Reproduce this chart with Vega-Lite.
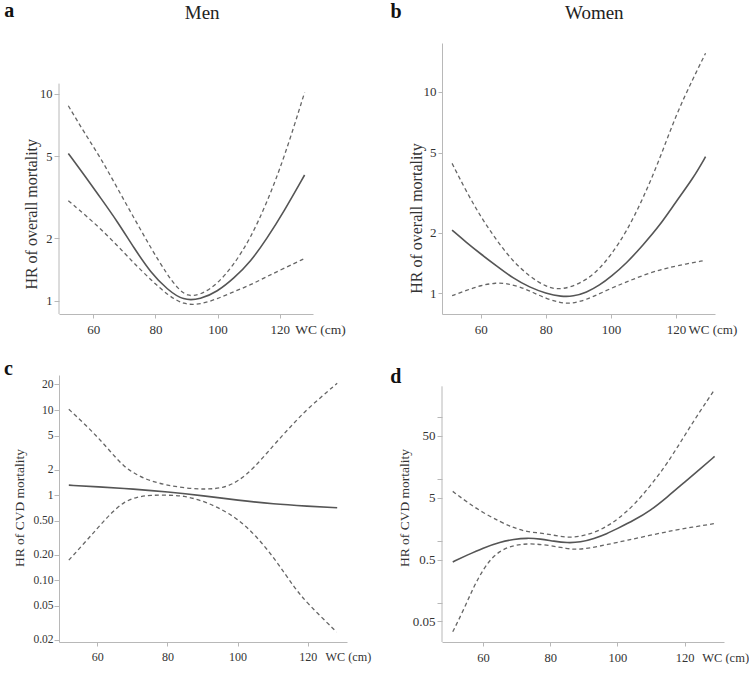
{
  "$schema": "https://vega.github.io/schema/vega-lite/v6.json",
  "background": "white",
  "padding": {"left": 3, "top": 0, "right": 0, "bottom": 0},
  "config": {
    "font": "Liberation Serif, Times New Roman, DejaVu Serif, serif",
    "view": {"stroke": null},
    "axis": {"grid": false, "domainColor": "#b8b8b8", "tickColor": "#b8b8b8", "labelFont": "Liberation Serif, Times New Roman, DejaVu Serif, serif", "titleFont": "Liberation Serif, Times New Roman, DejaVu Serif, serif", "labelColor": "#333333", "titleColor": "#333333", "titleFontWeight": "normal", "labelOverlap": false, "labelFlush": false}
  },
  "datasets": {
    "curves": [
      {"p":"a","s":"est","wc":52,"hr":5.15},{"p":"a","s":"est","wc":57.1,"hr":4.05},{"p":"a","s":"est","wc":62.5,"hr":3.12},{"p":"a","s":"est","wc":67.8,"hr":2.41},{"p":"a","s":"est","wc":73.2,"hr":1.79},{"p":"a","s":"est","wc":78.6,"hr":1.36},{"p":"a","s":"est","wc":83.9,"hr":1.13},{"p":"a","s":"est","wc":89,"hr":1.0},{"p":"a","s":"est","wc":94.5,"hr":1.015},{"p":"a","s":"est","wc":99.9,"hr":1.105},{"p":"a","s":"est","wc":105.2,"hr":1.28},{"p":"a","s":"est","wc":110.6,"hr":1.54},{"p":"a","s":"est","wc":115.9,"hr":2.0},{"p":"a","s":"est","wc":121.3,"hr":2.69},{"p":"a","s":"est","wc":128,"hr":4.05},
      {"p":"a","s":"hi","wc":52,"hr":8.75},{"p":"a","s":"hi","wc":57.1,"hr":6.5},{"p":"a","s":"hi","wc":62.5,"hr":4.87},{"p":"a","s":"hi","wc":67.8,"hr":3.49},{"p":"a","s":"hi","wc":73.2,"hr":2.5},{"p":"a","s":"hi","wc":78.6,"hr":1.79},{"p":"a","s":"hi","wc":83.9,"hr":1.33},{"p":"a","s":"hi","wc":87.1,"hr":1.15},{"p":"a","s":"hi","wc":90.3,"hr":1.045},{"p":"a","s":"hi","wc":94.5,"hr":1.065},{"p":"a","s":"hi","wc":99.9,"hr":1.2},{"p":"a","s":"hi","wc":105.2,"hr":1.49},{"p":"a","s":"hi","wc":110.6,"hr":2.0},{"p":"a","s":"hi","wc":115.9,"hr":2.99},{"p":"a","s":"hi","wc":121.3,"hr":4.83},{"p":"a","s":"hi","wc":128,"hr":10.15},
      {"p":"a","s":"lo","wc":52,"hr":3.04},{"p":"a","s":"lo","wc":62.5,"hr":2.24},{"p":"a","s":"lo","wc":73.2,"hr":1.51},{"p":"a","s":"lo","wc":78.6,"hr":1.26},{"p":"a","s":"lo","wc":83.9,"hr":1.065},{"p":"a","s":"lo","wc":89.2,"hr":0.953},{"p":"a","s":"lo","wc":94.5,"hr":0.96},{"p":"a","s":"lo","wc":99.9,"hr":1.02},{"p":"a","s":"lo","wc":105.2,"hr":1.105},{"p":"a","s":"lo","wc":110.6,"hr":1.19},{"p":"a","s":"lo","wc":115.9,"hr":1.31},{"p":"a","s":"lo","wc":121.3,"hr":1.43},{"p":"a","s":"lo","wc":128,"hr":1.6},
      {"p":"b","s":"est","wc":51.2,"hr":2.06},{"p":"b","s":"est","wc":55.6,"hr":1.79},{"p":"b","s":"est","wc":60,"hr":1.57},{"p":"b","s":"est","wc":64.8,"hr":1.37},{"p":"b","s":"est","wc":69.9,"hr":1.19},{"p":"b","s":"est","wc":75.1,"hr":1.07},{"p":"b","s":"est","wc":80,"hr":1.0},{"p":"b","s":"est","wc":84.8,"hr":0.963},{"p":"b","s":"est","wc":88.4,"hr":0.966},{"p":"b","s":"est","wc":92.5,"hr":1.01},{"p":"b","s":"est","wc":96.6,"hr":1.1},{"p":"b","s":"est","wc":100,"hr":1.21},{"p":"b","s":"est","wc":104.8,"hr":1.41},{"p":"b","s":"est","wc":109.9,"hr":1.74},{"p":"b","s":"est","wc":115.1,"hr":2.18},{"p":"b","s":"est","wc":120,"hr":2.85},{"p":"b","s":"est","wc":125.3,"hr":3.73},{"p":"b","s":"est","wc":129.1,"hr":4.77},
      {"p":"b","s":"hi","wc":51.2,"hr":4.42},{"p":"b","s":"hi","wc":55.6,"hr":3.2},{"p":"b","s":"hi","wc":60,"hr":2.4},{"p":"b","s":"hi","wc":64.8,"hr":1.84},{"p":"b","s":"hi","wc":69.9,"hr":1.44},{"p":"b","s":"hi","wc":75.1,"hr":1.21},{"p":"b","s":"hi","wc":80,"hr":1.08},{"p":"b","s":"hi","wc":83.3,"hr":1.047},{"p":"b","s":"hi","wc":87.4,"hr":1.067},{"p":"b","s":"hi","wc":92.5,"hr":1.165},{"p":"b","s":"hi","wc":96.6,"hr":1.33},{"p":"b","s":"hi","wc":100,"hr":1.55},{"p":"b","s":"hi","wc":104.8,"hr":2.02},{"p":"b","s":"hi","wc":109.9,"hr":2.96},{"p":"b","s":"hi","wc":115.1,"hr":4.68},{"p":"b","s":"hi","wc":120,"hr":7.69},{"p":"b","s":"hi","wc":125.3,"hr":11.7},{"p":"b","s":"hi","wc":129.1,"hr":15.56},
      {"p":"b","s":"lo","wc":51.2,"hr":0.974},{"p":"b","s":"lo","wc":55.6,"hr":1.035},{"p":"b","s":"lo","wc":60,"hr":1.096},{"p":"b","s":"lo","wc":64.8,"hr":1.13},{"p":"b","s":"lo","wc":67.9,"hr":1.12},{"p":"b","s":"lo","wc":72,"hr":1.08},{"p":"b","s":"lo","wc":76.1,"hr":1.01},{"p":"b","s":"lo","wc":80,"hr":0.944},{"p":"b","s":"lo","wc":84.3,"hr":0.899},{"p":"b","s":"lo","wc":87.4,"hr":0.889},{"p":"b","s":"lo","wc":90.5,"hr":0.909},{"p":"b","s":"lo","wc":94.6,"hr":0.963},{"p":"b","s":"lo","wc":100,"hr":1.059},{"p":"b","s":"lo","wc":104.8,"hr":1.14},{"p":"b","s":"lo","wc":109.9,"hr":1.23},{"p":"b","s":"lo","wc":115.1,"hr":1.31},{"p":"b","s":"lo","wc":120,"hr":1.37},{"p":"b","s":"lo","wc":129.1,"hr":1.46},
      {"p":"c","s":"est","wc":51.9,"hr":1.31},{"p":"c","s":"est","wc":60,"hr":1.253},{"p":"c","s":"est","wc":70.4,"hr":1.177},{"p":"c","s":"est","wc":80,"hr":1.094},{"p":"c","s":"est","wc":90.4,"hr":0.982},{"p":"c","s":"est","wc":100,"hr":0.873},{"p":"c","s":"est","wc":110.3,"hr":0.784},{"p":"c","s":"est","wc":120,"hr":0.742},{"p":"c","s":"est","wc":128.4,"hr":0.71},
      {"p":"c","s":"hi","wc":51.9,"hr":10.2},{"p":"c","s":"hi","wc":56.2,"hr":6.97},{"p":"c","s":"hi","wc":60,"hr":4.86},{"p":"c","s":"hi","wc":63.8,"hr":3.24},{"p":"c","s":"hi","wc":67.6,"hr":2.15},{"p":"c","s":"hi","wc":71.4,"hr":1.72},{"p":"c","s":"hi","wc":75.2,"hr":1.46},{"p":"c","s":"hi","wc":79.9,"hr":1.31},{"p":"c","s":"hi","wc":85.6,"hr":1.2},{"p":"c","s":"hi","wc":91.3,"hr":1.166},{"p":"c","s":"hi","wc":96.1,"hr":1.22},{"p":"c","s":"hi","wc":100,"hr":1.435},{"p":"c","s":"hi","wc":104.6,"hr":2.06},{"p":"c","s":"hi","wc":110.3,"hr":3.87},{"p":"c","s":"hi","wc":115.1,"hr":6.37},{"p":"c","s":"hi","wc":120,"hr":10.46},{"p":"c","s":"hi","wc":128.4,"hr":20.6},
      {"p":"c","s":"lo","wc":51.9,"hr":0.172},{"p":"c","s":"lo","wc":56.2,"hr":0.27},{"p":"c","s":"lo","wc":60,"hr":0.405},{"p":"c","s":"lo","wc":63.8,"hr":0.608},{"p":"c","s":"lo","wc":67.6,"hr":0.835},{"p":"c","s":"lo","wc":71.4,"hr":0.956},{"p":"c","s":"lo","wc":75.2,"hr":1.0},{"p":"c","s":"lo","wc":80.4,"hr":1.0},{"p":"c","s":"lo","wc":84.7,"hr":0.982},{"p":"c","s":"lo","wc":89.4,"hr":0.873},{"p":"c","s":"lo","wc":94.2,"hr":0.729},{"p":"c","s":"lo","wc":100,"hr":0.531},{"p":"c","s":"lo","wc":105.6,"hr":0.323},{"p":"c","s":"lo","wc":111.3,"hr":0.164},{"p":"c","s":"lo","wc":116,"hr":0.0835},{"p":"c","s":"lo","wc":120,"hr":0.053},{"p":"c","s":"lo","wc":128.2,"hr":0.0247},
      {"p":"d","s":"est","wc":51,"hr":0.458},{"p":"d","s":"est","wc":55.2,"hr":0.588},{"p":"d","s":"est","wc":60,"hr":0.772},{"p":"d","s":"est","wc":65.2,"hr":0.965},{"p":"d","s":"est","wc":69.1,"hr":1.065},{"p":"d","s":"est","wc":73.1,"hr":1.12},{"p":"d","s":"est","wc":77.1,"hr":1.08},{"p":"d","s":"est","wc":81.1,"hr":0.989},{"p":"d","s":"est","wc":85,"hr":0.93},{"p":"d","s":"est","wc":89,"hr":0.953},{"p":"d","s":"est","wc":93,"hr":1.09},{"p":"d","s":"est","wc":96.9,"hr":1.31},{"p":"d","s":"est","wc":99.9,"hr":1.58},{"p":"d","s":"est","wc":104.9,"hr":2.16},{"p":"d","s":"est","wc":109.9,"hr":3.13},{"p":"d","s":"est","wc":114.8,"hr":5.14},{"p":"d","s":"est","wc":120,"hr":8.99},{"p":"d","s":"est","wc":124.7,"hr":14.8},{"p":"d","s":"est","wc":128.9,"hr":23.3},
      {"p":"d","s":"hi","wc":51,"hr":6.35},{"p":"d","s":"hi","wc":55.2,"hr":4.27},{"p":"d","s":"hi","wc":60,"hr":2.87},{"p":"d","s":"hi","wc":65.2,"hr":2.03},{"p":"d","s":"hi","wc":69.1,"hr":1.64},{"p":"d","s":"hi","wc":73.1,"hr":1.4},{"p":"d","s":"hi","wc":77.1,"hr":1.35},{"p":"d","s":"hi","wc":81.1,"hr":1.24},{"p":"d","s":"hi","wc":85,"hr":1.13},{"p":"d","s":"hi","wc":89,"hr":1.19},{"p":"d","s":"hi","wc":93,"hr":1.35},{"p":"d","s":"hi","wc":96.9,"hr":1.73},{"p":"d","s":"hi","wc":99.9,"hr":2.21},{"p":"d","s":"hi","wc":104.9,"hr":3.78},{"p":"d","s":"hi","wc":109.9,"hr":7.94},{"p":"d","s":"hi","wc":114.8,"hr":17.8},{"p":"d","s":"hi","wc":120,"hr":51.1},{"p":"d","s":"hi","wc":124.7,"hr":129},{"p":"d","s":"hi","wc":128.9,"hr":282},
      {"p":"d","s":"lo","wc":51,"hr":0.0339},{"p":"d","s":"lo","wc":54.2,"hr":0.076},{"p":"d","s":"lo","wc":57.2,"hr":0.181},{"p":"d","s":"lo","wc":60.2,"hr":0.358},{"p":"d","s":"lo","wc":63.2,"hr":0.588},{"p":"d","s":"lo","wc":67.2,"hr":0.8},{"p":"d","s":"lo","wc":71.1,"hr":0.885},{"p":"d","s":"lo","wc":75.1,"hr":0.907},{"p":"d","s":"lo","wc":80.1,"hr":0.842},{"p":"d","s":"lo","wc":85,"hr":0.753},{"p":"d","s":"lo","wc":88,"hr":0.725},{"p":"d","s":"lo","wc":92,"hr":0.772},{"p":"d","s":"lo","wc":96.9,"hr":0.874},{"p":"d","s":"lo","wc":102.9,"hr":1.026},{"p":"d","s":"lo","wc":109.9,"hr":1.24},{"p":"d","s":"lo","wc":116.8,"hr":1.49},{"p":"d","s":"lo","wc":122.8,"hr":1.69},{"p":"d","s":"lo","wc":128.9,"hr":1.91}
    ]
  },
  "spacing": 18,
  "hconcat": [
    {
      "spacing": 22,
      "vconcat": [
        {
          "width": 254, "height": 271,
          "resolve": {"axis": {"x": "independent", "y": "independent"}},
          "layer": [
            {
              "data": {"values": [{"axisline": "y"}]},
              "mark": {"type": "rule", "color": "#b8b8b8", "strokeWidth": 1},
              "encoding": {
                "x": {"datum": 49, "type": "quantitative", "axis": null},
                "y": {"datum": 0.862, "type": "quantitative", "axis": null},
                "y2": {"datum": 11.2}
              }
            },
            {
              "data": {"name": "curves"},
              "transform": [{"filter": "datum.p == 'a' && datum.s != 'est'"}],
              "mark": {"type": "line", "color": "#666666", "strokeWidth": 1.3, "strokeDash": [4, 3], "interpolate": "basis"},
              "encoding": {
                "x": {"field": "wc", "type": "quantitative", "scale": {"domain": [49, 130.7], "nice": false, "zero": false},
                  "axis": {"orient": "bottom", "values": [60, 80, 100, 120], "tickSize": 4, "labelFontSize": 13, "labelBaseline": "alphabetic", "labelPadding": 15, "title": "WC (cm)", "titleFontSize": 13.5, "titleAngle": 0, "titleAlign": "left", "titleBaseline": "alphabetic", "titleX": 235.7, "titleY": 19.4}},
                "y": {"field": "hr", "type": "quantitative", "scale": {"type": "log", "domain": [0.862, 17.6], "nice": false},
                  "axis": {"orient": "left", "domain": false, "values": [1, 2, 5, 10], "labelExpr": "format(datum.value, 'd')", "tickSize": 5, "labelFontSize": 12.5, "labelPadding": 2, "title": "HR of overall mortality", "titleFontSize": 16, "titleAngle": -90, "titleAlign": "center", "titleBaseline": "alphabetic", "titleX": -22.8, "titleY": 170.8}},
                "detail": {"field": "s"}
              }
            },
            {
              "data": {"name": "curves"},
              "transform": [{"filter": "datum.p == 'a' && datum.s == 'est'"}],
              "mark": {"type": "line", "color": "#555555", "strokeWidth": 1.6, "interpolate": "basis"},
              "encoding": {
                "x": {"field": "wc", "type": "quantitative",
                  "axis": {"orient": "top", "domain": false, "ticks": false, "labels": false, "title": "Men", "titleFontSize": 19, "titleAngle": 0, "titleAlign": "center", "titleBaseline": "alphabetic", "titleX": 142.7, "titleY": -25, "titleColor": "#222222"}},
                "y": {"field": "hr", "type": "quantitative",
                  "axis": {"orient": "right", "domain": false, "ticks": false, "labels": false, "title": "a", "titleFontSize": 20, "titleFontWeight": "bold", "titleAngle": 0, "titleAlign": "left", "titleBaseline": "alphabetic", "titleX": -309.3, "titleY": -26.5, "titleColor": "#111111"}}
              }
            }
          ]
        },
        {
          "width": 288, "height": 267,
          "data": {"name": "curves"},
          "resolve": {"axis": {"x": "independent", "y": "independent"}},
          "layer": [
            {
              "transform": [{"filter": "datum.p == 'c' && datum.s != 'est'"}],
              "mark": {"type": "line", "color": "#666666", "strokeWidth": 1.3, "strokeDash": [4, 3], "interpolate": "basis"},
              "encoding": {
                "x": {"field": "wc", "type": "quantitative", "scale": {"domain": [49.1, 131.2], "nice": false, "zero": false},
                  "axis": {"orient": "bottom", "values": [60, 80, 100, 120], "tickSize": 4, "labelFontSize": 12, "labelBaseline": "alphabetic", "labelPadding": 14.3, "title": "WC (cm)", "titleFontSize": 12.2, "titleAngle": 0, "titleAlign": "left", "titleBaseline": "alphabetic", "titleX": 266, "titleY": 18.3}},
                "y": {"field": "hr", "type": "quantitative", "scale": {"type": "log", "domain": [0.0188, 25.8], "nice": false},
                  "axis": {"orient": "left", "values": [0.02, 0.05, 0.1, 0.2, 0.5, 1, 2, 5, 10, 20], "labelExpr": "datum.value < 1 ? format(datum.value, '.2f') : format(datum.value, 'd')", "tickSize": 5, "labelFontSize": 11.5, "labelPadding": 1, "title": "HR of CVD mortality", "titleFontSize": 13.5, "titleAngle": -90, "titleAlign": "center", "titleBaseline": "alphabetic", "titleX": -35.5, "titleY": 132.5}},
                "detail": {"field": "s"}
              }
            },
            {
              "transform": [{"filter": "datum.p == 'c' && datum.s == 'est'"}],
              "mark": {"type": "line", "color": "#555555", "strokeWidth": 1.6, "interpolate": "basis"},
              "encoding": {
                "x": {"field": "wc", "type": "quantitative", "axis": null},
                "y": {"field": "hr", "type": "quantitative",
                  "axis": {"orient": "right", "domain": false, "ticks": false, "labels": false, "title": "c", "titleFontSize": 20, "titleFontWeight": "bold", "titleAngle": 0, "titleAlign": "left", "titleBaseline": "alphabetic", "titleX": -343.6, "titleY": -1, "titleColor": "#111111"}}
              }
            }
          ]
        }
      ]
    },
    {
      "spacing": 29,
      "vconcat": [
        {
          "width": 273, "height": 271,
          "data": {"name": "curves"},
          "resolve": {"axis": {"x": "independent", "y": "independent"}},
          "layer": [
            {
              "transform": [{"filter": "datum.p == 'b' && datum.s != 'est'"}],
              "mark": {"type": "line", "color": "#666666", "strokeWidth": 1.3, "strokeDash": [4, 3], "interpolate": "basis"},
              "encoding": {
                "x": {"field": "wc", "type": "quantitative", "scale": {"domain": [48.1, 132], "nice": false, "zero": false},
                  "axis": {"orient": "bottom", "values": [60, 80, 100, 120], "tickSize": 4, "labelFontSize": 13, "labelBaseline": "alphabetic", "labelPadding": 15, "title": "WC (cm)", "titleFontSize": 13, "titleAngle": 0, "titleAlign": "left", "titleBaseline": "alphabetic", "titleX": 246, "titleY": 19.4}},
                "y": {"field": "hr", "type": "quantitative", "scale": {"type": "log", "domain": [0.79, 17.5], "nice": false},
                  "axis": {"orient": "left", "values": [1, 2, 5, 10], "labelExpr": "format(datum.value, 'd')", "tickSize": 4, "labelFontSize": 13, "labelPadding": 2, "title": "HR of overall mortality", "titleFontSize": 16, "titleAngle": -90, "titleAlign": "center", "titleBaseline": "alphabetic", "titleX": -21, "titleY": 175}},
                "detail": {"field": "s"}
              }
            },
            {
              "transform": [{"filter": "datum.p == 'b' && datum.s == 'est'"}],
              "mark": {"type": "line", "color": "#555555", "strokeWidth": 1.6, "interpolate": "basis"},
              "encoding": {
                "x": {"field": "wc", "type": "quantitative",
                  "axis": {"orient": "top", "domain": false, "ticks": false, "labels": false, "title": "Women", "titleFontSize": 19, "titleAngle": 0, "titleAlign": "center", "titleBaseline": "alphabetic", "titleX": 151.8, "titleY": -24.7, "titleColor": "#222222"}},
                "y": {"field": "hr", "type": "quantitative",
                  "axis": {"orient": "right", "domain": false, "ticks": false, "labels": false, "title": "b", "titleFontSize": 20, "titleFontWeight": "bold", "titleAngle": 0, "titleAlign": "left", "titleBaseline": "alphabetic", "titleX": -325, "titleY": -26, "titleColor": "#111111"}}
              }
            }
          ]
        },
        {
          "width": 282, "height": 267,
          "resolve": {"axis": {"x": "independent", "y": "independent"}},
          "layer": [
            {
              "data": {"values": [{"axisline": "y"}]},
              "mark": {"type": "rule", "color": "#b8b8b8", "strokeWidth": 1},
              "encoding": {
                "x": {"datum": 47.8, "type": "quantitative", "axis": null},
                "y": {"datum": 0.0232, "type": "quantitative", "axis": null},
                "y2": {"datum": 318}
              }
            },
            {
              "data": {"name": "curves"},
              "transform": [{"filter": "datum.p == 'd' && datum.s != 'est'"}],
              "mark": {"type": "line", "color": "#666666", "strokeWidth": 1.3, "strokeDash": [4, 3], "interpolate": "basis"},
              "encoding": {
                "x": {"field": "wc", "type": "quantitative", "scale": {"domain": [47.8, 131.7], "nice": false, "zero": false},
                  "axis": {"orient": "bottom", "values": [60, 80, 100, 120], "tickSize": 4, "labelFontSize": 12.5, "labelBaseline": "alphabetic", "labelPadding": 15.5, "title": "WC (cm)", "titleFontSize": 12.5, "titleAngle": 0, "titleAlign": "left", "titleBaseline": "alphabetic", "titleX": 259.7, "titleY": 19.5}},
                "y": {"field": "hr", "type": "quantitative", "scale": {"type": "log", "domain": [0.0232, 485], "nice": false},
                  "axis": {"orient": "left", "domain": false, "values": [0.05, 0.1, 0.5, 1, 5, 10, 50, 100], "labelExpr": "indexof([0.05, 0.5, 5, 50], datum.value) >= 0 ? toString(datum.value) : ''", "tickSize": 5, "labelFontSize": 13, "labelPadding": 2, "title": "HR of CVD mortality", "titleFontSize": 13.5, "titleAngle": -90, "titleAlign": "center", "titleBaseline": "alphabetic", "titleX": -33.3, "titleY": 132.5}},
                "detail": {"field": "s"}
              }
            },
            {
              "data": {"name": "curves"},
              "transform": [{"filter": "datum.p == 'd' && datum.s == 'est'"}],
              "mark": {"type": "line", "color": "#555555", "strokeWidth": 1.6, "interpolate": "basis"},
              "encoding": {
                "x": {"field": "wc", "type": "quantitative", "axis": null},
                "y": {"field": "hr", "type": "quantitative",
                  "axis": {"orient": "right", "domain": false, "ticks": false, "labels": false, "title": "d", "titleFontSize": 20, "titleFontWeight": "bold", "titleAngle": 0, "titleAlign": "left", "titleBaseline": "alphabetic", "titleX": -334.3, "titleY": 7, "titleColor": "#111111"}}
              }
            }
          ]
        }
      ]
    }
  ]
}
